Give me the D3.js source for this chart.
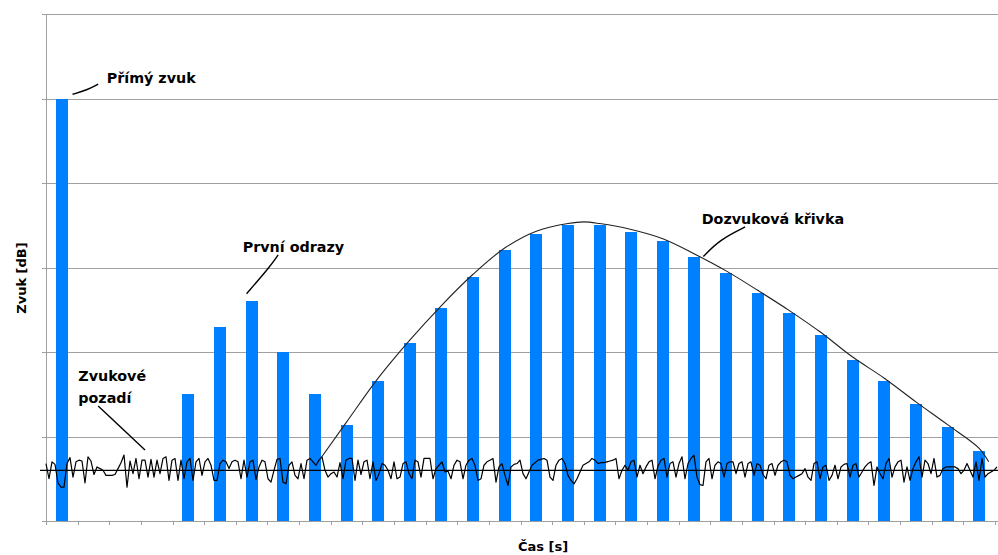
<!DOCTYPE html>
<html><head><meta charset="utf-8">
<script src="https://cdn.jsdelivr.net/npm/d3@7"></script>
<style>
body{margin:0;background:#fff;}
svg{display:block;}
text{font-family:"DejaVu Sans",Verdana,sans-serif;font-weight:bold;fill:#000;}
</style>
</head><body>
<svg id="chart" width="998" height="555"></svg>
<script>
// ---------- data ----------
const categories = [1,2,3,4,5,6,7,8,9,10,11,12,13,14,15,16,17,18,19,20,21,22,23,24,25,26,27,28,29,30];
const barValues = [50,null,null,null,15,23,26,20,15,11.4,16.6,21.1,25.2,28.9,32.1,34.0,35.0,35.0,34.2,33.1,31.3,29.3,27.0,24.6,22.0,19.1,16.6,13.8,11.1,8.3];
const yTicks = [0,10,20,30,40,50,60];
// decay curve (time in category units, value)
const curveT = [8.68,9.5,10.5,11.5,12.5,13.5,14.5,15.5,16.5,17.0,17.5,18.5,19.5,20.5,21.5,22.5,23.5,24.5,25.5,26.5,27.5,28.5,29.5,29.8];
const curveV = [7.4,11.7,16.9,21.4,25.5,29.2,32.3,34.3,35.2,35.4,35.2,34.5,33.4,31.6,29.6,27.3,24.9,22.3,19.4,16.9,14.1,11.4,8.6,7.0];
const noiseLevel = 6;
const noise = [
6.8,5.0,7.0,6.7,4.5,4.0,4.0,6.8,7.5,5.2,7.0,7.2,7.1,4.5,7.6,7.1,5.5,6.4,6.2,6.0,
5.4,5.4,5.4,5.5,6.2,6.9,7.8,4.0,7.1,5.6,7.4,5.0,7.2,7.2,5.2,7.3,5.2,7.2,5.6,7.4,
7.6,4.8,7.2,7.4,4.8,7.2,5.0,7.0,7.4,4.8,7.0,7.4,5.4,7.0,7.4,6.6,4.8,4.8,6.8,7.2,
7.0,6.2,
7.0,7.2,7.0,5.0,7.2,5.2,7.0,7.2,4.9,6.4,7.2,7.0,5.0,4.6,6.0,7.3,7.4,4.6,4.4,6.6,
7.0,5.4,5.0,6.8,5.0,7.2,7.4,7.0,6.6,7.2,7.6,6.0,5.2,5.6,5.8,5.2,6.9,5.0,7.2,7.4,
7.4,4.8,7.2,5.5,7.0,7.2,5.0,7.0,4.8,5.6,6.8,6.6,6.0,5.0,7.0,5.0,5.2,6.8,7.0,5.6,
5.0,7.2,7.0,
5.2,7.4,7.4,7.4,5.0,6.2,6.6,7.0,5.8,5.9,5.0,6.6,7.2,7.0,5.0,6.6,7.2,7.4,6.6,4.8,
5.0,6.6,7.0,7.2,7.4,4.6,6.4,6.8,5.4,4.2,6.4,6.7,6.8,7.2,5.6,5.0,5.8,6.6,6.9,7.2,
7.3,7.4,7.2,5.2,4.8,6.6,7.2,7.4,6.8,5.4,4.8,4.4,5.0,5.8,6.6,6.8,7.0,7.4,7.2,6.8,
6.9,6.9,7.0,7.1,7.2,
7.4,5.0,6.0,6.6,6.0,7.0,7.2,5.2,6.6,5.6,6.4,7.0,7.2,5.0,6.5,7.2,7.4,5.2,6.8,7.0,
5.2,6.8,7.6,5.0,6.8,7.4,7.8,5.2,4.3,4.2,7.0,7.4,5.0,6.6,7.0,6.8,5.2,6.8,7.0,7.0,
5.6,6.8,7.0,5.2,6.8,7.0,5.4,6.8,6.6,5.5,5.0,6.6,6.8,5.4,6.6,7.0,7.2,7.0,5.4,5.0,
5.2,5.4,5.6,
6.2,5.2,4.8,6.8,7.0,5.0,6.4,6.6,4.8,5.4,6.6,5.0,6.4,6.7,6.8,5.2,6.6,6.8,5.2,5.8,
6.4,6.8,7.0,4.2,6.4,5.6,5.0,6.8,7.4,5.2,6.4,7.0,7.2,4.6,6.4,4.8,6.2,7.0,7.6,5.2,
7.2,6.8,5.6,7.4,5.2,5.4,6.2,6.4,6.4,6.4,6.4,6.2,5.6,6.0,6.8,6.0,5.2,7.0,4.8,7.4,
5.2,5.6,5.8,6.0,6.4
];
const annotations = [
  {lines:["Přímý zvuk"], t:1.92, v:51.8, leader:[[0.84,50.5],[1.3,51.0],[1.65,51.7]]},
  {lines:["První odrazy"], t:6.22, v:31.8, leader:[[6.34,26.9],[7.08,30.1],[7.34,31.5]]},
  {lines:["Zvukové","pozadí"], t:1.02, v:16.6, leader:[[1.65,13.6],[3.13,8.4]]},
  {lines:["Dozvuková křivka"], t:20.73, v:35.1, leader:[[20.78,31.3],[21.3,33.3],[22.1,34.8]]}
];
const xTitle = "Čas [s]";
const yTitle = "Zvuk [dB]";

// ---------- layout ----------
const W = 998, H = 555;
const mLeft = 46, mRight = 995, mTop = 14, mBottom = 521;
const svg = d3.select("#chart");

const y = d3.scaleLinear().domain([0,60]).range([mBottom, mTop]);
const xb = d3.scaleBand().domain(categories).range([mLeft, mRight]).paddingInner(0.62).paddingOuter(0.31);
const xt = d3.scaleLinear().domain([0,30]).range([mLeft, mRight]);
const xn = d3.scaleLinear().domain([0, noise.length-1]).range([mLeft, W-1]);

// gridlines
const grid = svg.append("g").attr("transform", `translate(${mLeft},0)`)
  .call(d3.axisLeft(y).tickValues(yTicks.filter(d=>d>0)).tickSize(-(W-mLeft)).tickFormat(""));
grid.select(".domain").remove();
grid.selectAll("line").attr("stroke","#a0a0a0").attr("stroke-width",1).attr("shape-rendering","crispEdges");

// y axis
const ya = svg.append("g").attr("transform", `translate(${mLeft},0)`)
  .call(d3.axisLeft(y).tickValues(yTicks).tickSize(4).tickSizeOuter(0).tickFormat(""));
ya.selectAll("line,path").attr("stroke","#a0a0a0").attr("shape-rendering","crispEdges");

// x axis
const xa = svg.append("g").attr("transform", `translate(0,${mBottom})`)
  .call(d3.axisBottom(xt).tickValues(d3.range(0,31)).tickSize(4).tickSizeOuter(0).tickFormat(""));
xa.select(".domain").attr("d", `M${mLeft-4},0.5H${W}`);
xa.selectAll("line,path").attr("stroke","#a0a0a0").attr("shape-rendering","crispEdges");

// bars
svg.append("g").selectAll("rect")
  .data(categories.map((c,i)=>({c, v:barValues[i]})).filter(d=>d.v!=null))
  .join("rect")
  .attr("x", d=>xb(d.c)).attr("width", xb.bandwidth())
  .attr("y", d=>y(d.v)).attr("height", d=>y(0)-y(d.v))
  .attr("fill","#0080ff").attr("shape-rendering","crispEdges");

// reference level line
svg.append("line").attr("x1", mLeft-6).attr("x2", W)
  .attr("y1", y(noiseLevel)).attr("y2", y(noiseLevel))
  .attr("stroke","#000").attr("stroke-width",1.3);

// noise line
svg.append("path").datum(noise)
  .attr("d", d3.line().x((d,i)=>xn(i)).y(d=>y(d)))
  .attr("fill","none").attr("stroke","#000").attr("stroke-width",1.2).attr("stroke-linejoin","round");

// decay curve
svg.append("path").datum(curveT.map((t,i)=>[t,curveV[i]]))
  .attr("d", d3.line().x(d=>xt(d[0])).y(d=>y(d[1])).curve(d3.curveCatmullRom.alpha(0.5)))
  .attr("fill","none").attr("stroke","#222").attr("stroke-width",1.1);

// annotations
const ag = svg.append("g");
annotations.forEach(a=>{
  ag.append("path").datum(a.leader)
    .attr("d", d3.line().x(d=>xt(d[0])).y(d=>y(d[1])).curve(d3.curveBasis))
    .attr("fill","none").attr("stroke","#000").attr("stroke-width",1.4);
  const tx = ag.append("text").attr("x", xt(a.t)).attr("y", y(a.v)).style("font-size","14.3px");
  a.lines.forEach((l,j)=>tx.append("tspan").attr("x", xt(a.t)).attr("dy", j===0?0:22.6).text(l));
});

// axis titles
svg.append("text").attr("x", 543).attr("y", 551).attr("text-anchor","middle").style("font-size","13px").text(xTitle);
svg.append("text").attr("transform","translate(26,278) rotate(-90)").attr("text-anchor","middle").style("font-size","13px").text(yTitle);
</script>
</body></html>
